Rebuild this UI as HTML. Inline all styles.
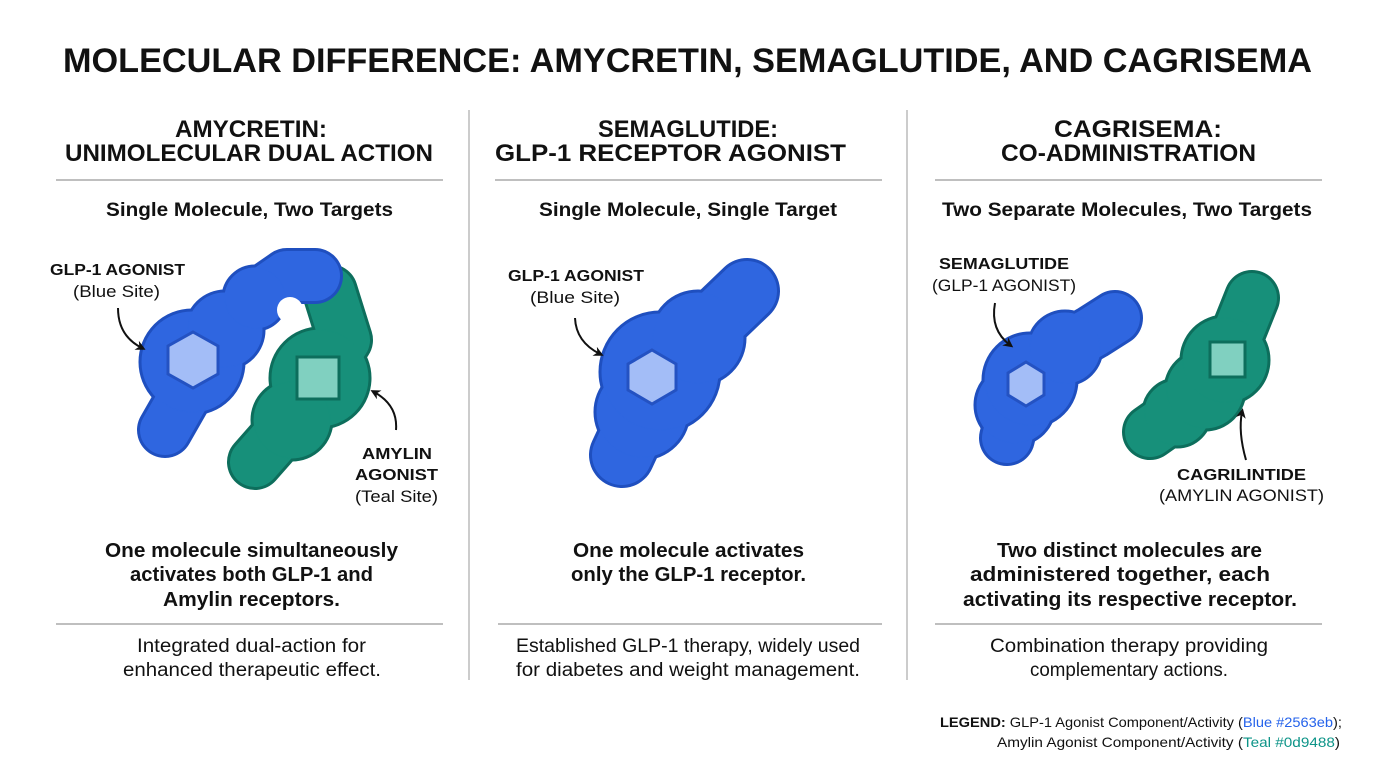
<!DOCTYPE html>
<html><head><meta charset="utf-8"><style>
html,body{margin:0;padding:0;background:#fff;}
svg{display:block;}
text{font-family:"Liberation Sans",sans-serif;fill:#111;}
.b{font-weight:bold;}
</style></head><body>
<svg width="1376" height="768" viewBox="0 0 1376 768" xmlns="http://www.w3.org/2000/svg">
<defs>
<marker id="ah" markerWidth="10" markerHeight="10" refX="6" refY="5" orient="auto" markerUnits="userSpaceOnUse">
<path d="M0,0 L10,5 L0,10 L3,5 Z" fill="#111"/></marker>
</defs>
<rect width="1376" height="768" fill="#fff"/>
<text class="b" x="63" y="72" font-size="34" textLength="1249" lengthAdjust="spacingAndGlyphs">MOLECULAR DIFFERENCE: AMYCRETIN, SEMAGLUTIDE, AND CAGRISEMA</text>
<line x1="469" y1="110" x2="469" y2="680" stroke="#bbb" stroke-width="1.5"/>
<line x1="907" y1="110" x2="907" y2="680" stroke="#bbb" stroke-width="1.5"/>
<g stroke="#aaa" stroke-width="1.5">
<line x1="56" y1="180" x2="443" y2="180"/><line x1="495" y1="180" x2="882" y2="180"/><line x1="935" y1="180" x2="1322" y2="180"/>
<line x1="56" y1="624" x2="443" y2="624"/><line x1="498" y1="624" x2="882" y2="624"/><line x1="935" y1="624" x2="1322" y2="624"/>
</g>
<g font-size="24">
<text class="b" x="175" y="137" textLength="152" lengthAdjust="spacingAndGlyphs">AMYCRETIN:</text>
<text class="b" x="65" y="161" textLength="368" lengthAdjust="spacingAndGlyphs">UNIMOLECULAR DUAL ACTION</text>
<text class="b" x="598" y="137" textLength="180" lengthAdjust="spacingAndGlyphs">SEMAGLUTIDE:</text>
<text class="b" x="495" y="161" textLength="351" lengthAdjust="spacingAndGlyphs">GLP-1 RECEPTOR AGONIST</text>
<text class="b" x="1054" y="137" textLength="168" lengthAdjust="spacingAndGlyphs">CAGRISEMA:</text>
<text class="b" x="1001" y="161" textLength="255" lengthAdjust="spacingAndGlyphs">CO-ADMINISTRATION</text>
</g>
<text class="b" x="106" y="216" font-size="19" textLength="287" lengthAdjust="spacingAndGlyphs">Single Molecule, Two Targets</text>
<text class="b" x="539" y="216" font-size="19" textLength="298" lengthAdjust="spacingAndGlyphs">Single Molecule, Single Target</text>
<text class="b" x="942" y="216" font-size="19" textLength="370" lengthAdjust="spacingAndGlyphs">Two Separate Molecules, Two Targets</text>

<!-- PANEL 1 -->
<g fill="#0d6e5c" stroke="#0d6e5c" stroke-linecap="round" stroke-linejoin="round">
<path d="M330,292 L345,340 L320,378 L292,420 L255,462" fill="none" stroke-width="56"/>
<circle cx="320" cy="378" r="51"/><circle cx="292" cy="420" r="41"/>
</g>
<g fill="#17907a" stroke="#17907a" stroke-linecap="round" stroke-linejoin="round">
<path d="M330,292 L345,340 L320,378 L292,420 L255,462" fill="none" stroke-width="50"/>
<circle cx="320" cy="378" r="48"/><circle cx="292" cy="420" r="38"/>
</g>
<g fill="#1f4fbf" stroke="#1f4fbf" stroke-linecap="round" stroke-linejoin="round">
<path d="M165,430 L185,395 L225,330 L255,298 L287,276 L315,276" fill="none" stroke-width="56"/>
<circle cx="192" cy="362" r="53"/><circle cx="225" cy="330" r="40"/><circle cx="255" cy="298" r="33"/>
</g>
<g fill="#2f66e0" stroke="#2f66e0" stroke-linecap="round" stroke-linejoin="round">
<path d="M165,430 L185,395 L225,330 L255,298 L287,276 L315,276" fill="none" stroke-width="50"/>
<circle cx="192" cy="362" r="50"/><circle cx="225" cy="330" r="37"/><circle cx="255" cy="298" r="30"/>
</g>
<circle cx="290" cy="310" r="13" fill="#fff"/>
<polygon points="193,332 218,346 218,374 193,388 168,374 168,346" fill="#a3bdf7" stroke="#2452c2" stroke-width="3"/>
<rect x="297" y="357" width="42" height="42" fill="#80d0c0" stroke="#0d6e5c" stroke-width="3"/>

<!-- PANEL 2 -->
<g fill="#1f4fbf" stroke="#1f4fbf" stroke-linecap="round" stroke-linejoin="round">
<path d="M622,455 L642,412 L698,338 L747,291" fill="none" stroke-width="66"/>
<circle cx="642" cy="412" r="48"/><circle cx="660" cy="372" r="61"/><circle cx="698" cy="338" r="48"/>
</g>
<g fill="#2f66e0" stroke="#2f66e0" stroke-linecap="round" stroke-linejoin="round">
<path d="M622,455 L642,412 L698,338 L747,291" fill="none" stroke-width="60"/>
<circle cx="642" cy="412" r="45"/><circle cx="660" cy="372" r="58"/><circle cx="698" cy="338" r="45"/>
</g>
<polygon points="652,350 676,364 676,390 652,404 628,390 628,364" fill="#a3bdf7" stroke="#2452c2" stroke-width="3"/>

<!-- PANEL 3 -->
<g fill="#1f4fbf" stroke="#1f4fbf" stroke-linecap="round" stroke-linejoin="round">
<path d="M1007,438 L1015,405 L1065,348 L1093,332 L1115,318" fill="none" stroke-width="56"/>
<circle cx="1015" cy="405" r="41"/><circle cx="1030" cy="380" r="48"/><circle cx="1065" cy="348" r="38"/>
</g>
<g fill="#2f66e0" stroke="#2f66e0" stroke-linecap="round" stroke-linejoin="round">
<path d="M1007,438 L1015,405 L1065,348 L1093,332 L1115,318" fill="none" stroke-width="50"/>
<circle cx="1015" cy="405" r="38"/><circle cx="1030" cy="380" r="45"/><circle cx="1065" cy="348" r="35"/>
</g>
<polygon points="1026,362 1044,373 1044,395 1026,406 1008,395 1008,373" fill="#a3bdf7" stroke="#2452c2" stroke-width="3"/>
<g fill="#0d6e5c" stroke="#0d6e5c" stroke-linecap="round" stroke-linejoin="round">
<path d="M1150,432 L1177,413 L1205,390 L1240,328 L1252,298" fill="none" stroke-width="56"/>
<circle cx="1177" cy="413" r="35"/><circle cx="1205" cy="390" r="41"/><circle cx="1225" cy="360" r="45"/>
</g>
<g fill="#17907a" stroke="#17907a" stroke-linecap="round" stroke-linejoin="round">
<path d="M1150,432 L1177,413 L1205,390 L1240,328 L1252,298" fill="none" stroke-width="50"/>
<circle cx="1177" cy="413" r="32"/><circle cx="1205" cy="390" r="38"/><circle cx="1225" cy="360" r="42"/>
</g>
<rect x="1210" y="342" width="35" height="35" fill="#80d0c0" stroke="#0d6e5c" stroke-width="3"/>

<g stroke="#111" stroke-width="2" fill="none" marker-end="url(#ah)">
 <path d="M118,308 Q118,336 142,348"/>
 <path d="M396,430 Q398,405 374,392"/>
 <path d="M575,318 Q576,342 600,354"/>
 <path d="M995,303 Q990,330 1010,345"/>
 <path d="M1246,460 Q1238,432 1242,412"/>
</g>

<g font-size="16">
<text class="b" x="50" y="275" textLength="135" lengthAdjust="spacingAndGlyphs">GLP-1 AGONIST</text>
<text x="73" y="297" font-size="17" textLength="87" lengthAdjust="spacingAndGlyphs">(Blue Site)</text>
<text class="b" x="362" y="459" textLength="70" lengthAdjust="spacingAndGlyphs">AMYLIN</text>
<text class="b" x="355" y="480" textLength="83" lengthAdjust="spacingAndGlyphs">AGONIST</text>
<text x="355" y="502" font-size="17" textLength="83" lengthAdjust="spacingAndGlyphs">(Teal Site)</text>
<text class="b" x="508" y="281" textLength="136" lengthAdjust="spacingAndGlyphs">GLP-1 AGONIST</text>
<text x="530" y="303" font-size="17" textLength="90" lengthAdjust="spacingAndGlyphs">(Blue Site)</text>
<text class="b" x="939" y="269" textLength="130" lengthAdjust="spacingAndGlyphs">SEMAGLUTIDE</text>
<text x="932" y="291" font-size="17" textLength="144" lengthAdjust="spacingAndGlyphs">(GLP-1 AGONIST)</text>
<text class="b" x="1177" y="480" textLength="129" lengthAdjust="spacingAndGlyphs">CAGRILINTIDE</text>
<text x="1159" y="501" font-size="17" textLength="165" lengthAdjust="spacingAndGlyphs">(AMYLIN AGONIST)</text>
</g>

<g font-size="20">
<text class="b" x="105" y="557" textLength="293" lengthAdjust="spacingAndGlyphs">One molecule simultaneously</text>
<text class="b" x="130" y="581" textLength="243" lengthAdjust="spacingAndGlyphs">activates both GLP-1 and</text>
<text class="b" x="163" y="606" textLength="177" lengthAdjust="spacingAndGlyphs">Amylin receptors.</text>
<text class="b" x="573" y="557" textLength="231" lengthAdjust="spacingAndGlyphs">One molecule activates</text>
<text class="b" x="571" y="581" textLength="235" lengthAdjust="spacingAndGlyphs">only the GLP-1 receptor.</text>
<text class="b" x="997" y="557" textLength="265" lengthAdjust="spacingAndGlyphs">Two distinct molecules are</text>
<text class="b" x="970" y="581" textLength="300" lengthAdjust="spacingAndGlyphs">administered together, each</text>
<text class="b" x="963" y="606" textLength="334" lengthAdjust="spacingAndGlyphs">activating its respective receptor.</text>
</g>
<g font-size="19">
<text x="137" y="652" textLength="229" lengthAdjust="spacingAndGlyphs">Integrated dual-action for</text>
<text x="123" y="676" textLength="258" lengthAdjust="spacingAndGlyphs">enhanced therapeutic effect.</text>
<text x="516" y="652" textLength="344" lengthAdjust="spacingAndGlyphs">Established GLP-1 therapy, widely used</text>
<text x="516" y="676" textLength="344" lengthAdjust="spacingAndGlyphs">for diabetes and weight management.</text>
<text x="990" y="652" textLength="278" lengthAdjust="spacingAndGlyphs">Combination therapy providing</text>
<text x="1030" y="676" textLength="198" lengthAdjust="spacingAndGlyphs">complementary actions.</text>
</g>

<text x="940" y="727" font-size="14" textLength="402" lengthAdjust="spacingAndGlyphs"><tspan font-weight="bold">LEGEND:</tspan> GLP-1 Agonist Component/Activity (<tspan style="fill:#2563eb">Blue #2563eb</tspan>);</text>
<text x="997" y="747" font-size="14" textLength="343" lengthAdjust="spacingAndGlyphs">Amylin Agonist Component/Activity (<tspan style="fill:#0d9488">Teal #0d9488</tspan>)</text>
</svg>
</body></html>
